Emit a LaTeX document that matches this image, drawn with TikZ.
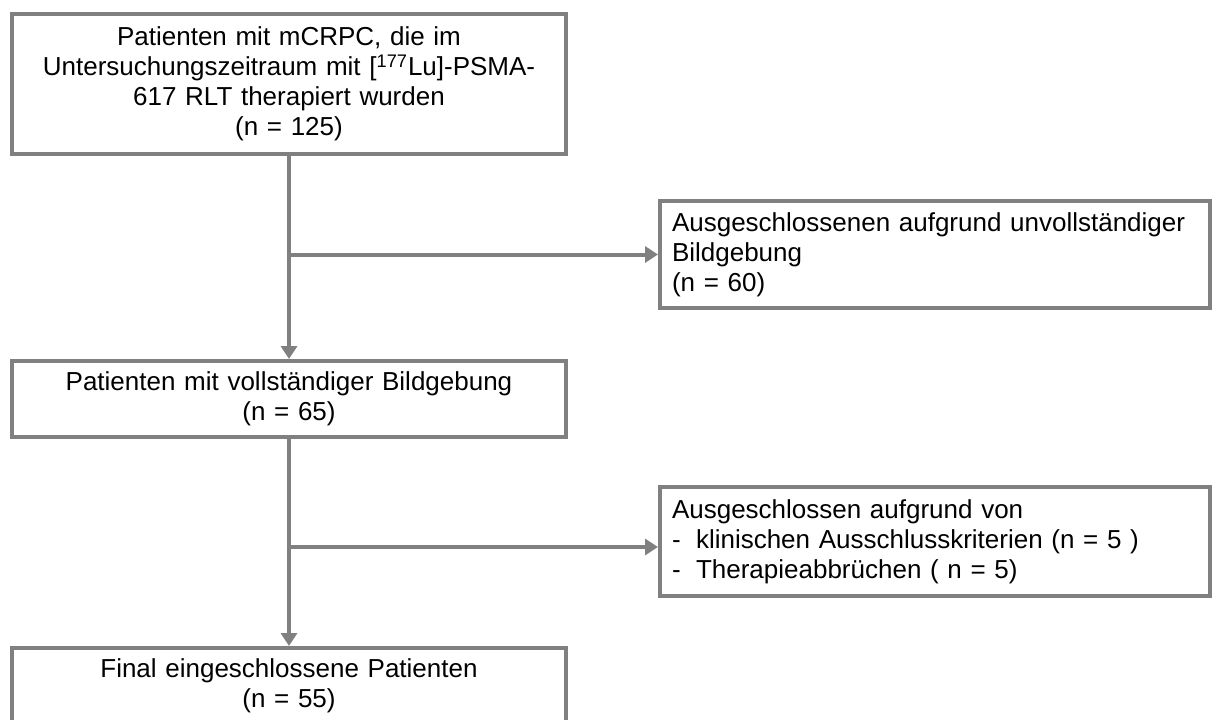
\documentclass[tikz,border=0pt]{standalone}
\usepackage{fontspec}
\setmainfont{Liberation Sans}
\usepackage{xcolor}
\usetikzlibrary{arrows.meta,positioning}
\definecolor{framegray}{RGB}{128,128,128}

\begin{document}
\begin{tikzpicture}[x=0.5pt, y=-0.5pt,
    box/.style={draw=framegray, line width=2pt, rectangle, inner sep=0pt,
        font=\fontsize{13pt}{15pt}\selectfont},
    mainbox/.style={box, minimum width=277pt, text width=265pt, align=center},
    sidebox/.style={box, minimum width=275pt, text width=263pt, align=left},
    flow/.style={draw=framegray, line width=2pt, -{Triangle[length=6.5pt,width=8pt]}}]
    \clip (0,0) rectangle (1213,719);
    \node[mainbox, minimum height=70pt] (pat) at (289,84)
        {Patienten mit mCRPC, die im\\Untersuchungszeitraum mit [\textsuperscript{177}Lu]-PSMA-\\617 RLT therapiert wurden\\(n = 125)};
    \node[sidebox, minimum height=53.5pt] (ausg1) at (935,254.5)
        {Ausgeschlossenen aufgrund unvollständiger\\Bildgebung\\(n = 60)};
    \node[mainbox, minimum height=38pt] (voll) at (289,399)
        {Patienten mit vollständiger Bildgebung\\(n = 65)};
    \node[sidebox, minimum height=54.5pt] (ausg2) at (935,541.5)
        {Ausgeschlossen aufgrund von\\\makebox[12pt][l]{-}klinischen Ausschlusskriterien (n = 5 )\\\makebox[12pt][l]{-}Therapieabbrüchen ( n = 5)};
    \node[mainbox, minimum height=38pt] (final) at (289,686)
        {Final eingeschlossene Patienten\\(n = 55)};
    \coordinate (fork1) at (pat.south |- ausg1.west);
    \coordinate (fork2) at (289,547);
    \draw[flow] (pat.south) -- (voll.north);
    \draw[flow] (fork1) -- (ausg1.west);
    \draw[flow] (voll.south) -- (final.north);
    \draw[flow] (fork2) -- (fork2 -| ausg2.west);
\end{tikzpicture}
\end{document}
